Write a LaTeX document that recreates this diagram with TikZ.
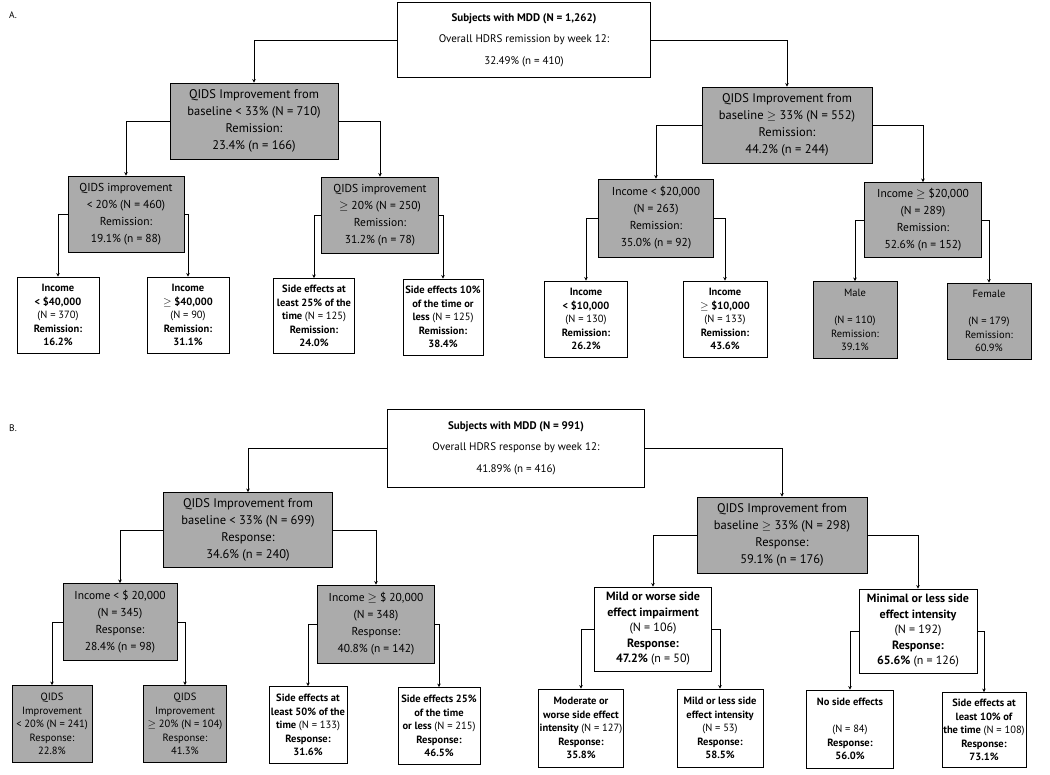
\documentclass[tikz,border=0pt]{standalone}
\usepackage{fontspec}
\setmainfont{PT Sans}
\usetikzlibrary{arrows.meta}
\newcommand{\gte}{$\geq$}

\tikzset{
  box/.style={draw=black, line width=0.9pt, inner sep=0pt, align=center},
  rootbox/.style={box, fill=white, font=\fontsize{11}{21.5}\selectfont},
  splitbox/.style={box, fill=black!33, font=\fontsize{11.5}{17}\selectfont},
  splitbig/.style={splitbox, font=\fontsize{12.5}{17}\selectfont},
  midbox/.style={box, fill=white, font=\fontsize{12}{15.5}\selectfont\bfseries},
  leafbox/.style={box, fill=white, font=\fontsize{10.5}{13.5}\selectfont\bfseries},
  leafgray/.style={box, fill=black!33, font=\fontsize{10.5}{13.5}\selectfont},
  conn/.style={line width=0.7pt, -{Stealth[length=3.5pt,width=3.5pt]}},
}

\begin{document}
\begin{tikzpicture}[x=1pt, y=-1pt]
  \useasboundingbox (0,0) rectangle (1050,775);

  % ---- panel A: remission ----
  \node[font=\fontsize{9.5}{10}\selectfont] (labA) at (13,15) {A.};
  \node[rootbox, minimum width=253pt, minimum height=75pt] (rootA) at (524,40)
    {\textbf{Subjects with MDD (N = 1,262)}\\Overall HDRS remission by week 12:\\32.49\% (n = 410)};

  \node[splitbig, minimum width=168pt, minimum height=76pt] (A1) at (254,121)
    {QIDS Improvement from\\baseline < 33\% (N = 710)\\Remission:\\23.4\% (n = 166)};
  \node[splitbig, minimum width=170pt, minimum height=76pt] (A2) at (787,125)
    {QIDS Improvement from\\baseline \gte{} 33\% (N = 552)\\Remission:\\44.2\% (n = 244)};

  \node[splitbox, minimum width=116pt, minimum height=76pt] (A11) at (126,214)
    {QIDS improvement\\< 20\% (N = 460)\\Remission:\\19.1\% (n = 88)};
  \node[splitbox, minimum width=117pt, minimum height=76pt] (A12) at (380,215)
    {QIDS improvement\\\gte{} 20\% (N = 250)\\Remission:\\31.2\% (n = 78)};
  \node[splitbox, minimum width=115pt, minimum height=78pt] (A21) at (656,218)
    {Income < \$20,000\\(N = 263)\\Remission:\\35.0\% (n = 92)};
  \node[splitbox, minimum width=117pt, minimum height=75pt] (A22) at (923,220)
    {Income \gte{} \$20,000\\(N = 289)\\Remission:\\52.6\% (n = 152)};

  \node[leafbox, minimum width=82pt, minimum height=76pt] (A111) at (58,315)
    {Income\\< \$40,000\\{\mdseries(N = 370)}\\Remission:\\16.2\%};
  \node[leafbox, minimum width=82pt, minimum height=76pt] (A112) at (188,315)
    {Income\\\gte{} \$40,000\\{\mdseries(N = 90)}\\Remission:\\31.1\%};
  \node[leafbox, minimum width=81pt, minimum height=75pt] (A121) at (314,316)
    {Side effects at\\least 25\% of the\\time {\mdseries(N = 125)}\\Remission:\\24.0\%};
  \node[leafbox, minimum width=80pt, minimum height=76pt] (A122) at (443,317)
    {Side effects 10\%\\of the time or\\less {\mdseries(N = 125)}\\Remission:\\38.4\%};
  \node[leafbox, minimum width=83pt, minimum height=76pt] (A211) at (586,319)
    {Income\\< \$10,000\\{\mdseries(N = 130)}\\Remission:\\26.2\%};
  \node[leafbox, minimum width=84pt, minimum height=76pt] (A212) at (725,319)
    {Income\\\gte{} \$10,000\\{\mdseries(N = 133)}\\Remission:\\43.6\%};
  \node[leafgray, minimum width=84pt, minimum height=77pt] (A221) at (855,320)
    {Male\\~\\(N = 110)\\Remission:\\39.1\%};
  \node[leafgray, minimum width=84pt, minimum height=76pt] (A222) at (989,321)
    {Female\\~\\(N = 179)\\Remission:\\60.9\%};

  \draw[conn] (rootA.west) -| (A1.north);
  \draw[conn] (rootA.east) -| (A2.north);
  \draw[conn] (A1.west) -| (A11.north);
  \draw[conn] (A1.east) -| (A12.north);
  \draw[conn] (A2.west) -| (A21.north);
  \draw[conn] (A2.east) -| (A22.north);
  \draw[conn] (A11.west) -| (A111.north);
  \draw[conn] (A11.east) -| (A112.north);
  \draw[conn] (A12.west) -| (A121.north);
  \draw[conn] (A12.east) -| (A122.north);
  \draw[conn] (A21.west) -| (A211.north);
  \draw[conn] (A21.east) -| (A212.north);
  \draw[conn] (A22.west) -| (A221.north);
  \draw[conn] (A22.east) -| (A222.north);

  % ---- panel B: response ----
  \node[font=\fontsize{9.5}{10}\selectfont] (labB) at (13,428) {B.};
  \node[rootbox, minimum width=257pt, minimum height=78pt] (rootB) at (516,448)
    {\textbf{Subjects with MDD (N = 991)}\\Overall HDRS response by week 12:\\41.89\% (n = 416)};

  \node[splitbig, minimum width=169pt, minimum height=75pt] (B1) at (248,530)
    {QIDS Improvement from\\baseline < 33\% (N = 699)\\Response:\\34.6\% (n = 240)};
  \node[splitbig, minimum width=170pt, minimum height=76pt] (B2) at (782,535)
    {QIDS Improvement from\\baseline \gte{} 33\% (N = 298)\\Response:\\59.1\% (n = 176)};

  \node[splitbox, minimum width=114pt, minimum height=77pt] (B11) at (120,622)
    {Income < \$ 20,000\\(N = 345)\\Response:\\28.4\% (n = 98)};
  \node[splitbox, minimum width=117pt, minimum height=78pt] (B12) at (376,624)
    {Income \gte{} \$ 20,000\\(N = 348)\\Response:\\40.8\% (n = 142)};
  \node[midbox, minimum width=117pt, minimum height=84pt] (B21) at (653,629)
    {Mild or worse side\\effect impairment\\{\mdseries(N = 106)}\\Response:\\47.2\% {\mdseries(n = 50)}};
  \node[midbox, minimum width=118pt, minimum height=84pt] (B22) at (918,631)
    {Minimal or less side\\effect intensity\\{\mdseries(N = 192)}\\Response:\\65.6\% {\mdseries(n = 126)}};

  \node[leafgray, minimum width=80pt, minimum height=77pt] (B111) at (52,724)
    {QIDS\\Improvement\\< 20\% (N = 241)\\Response:\\22.8\%};
  \node[leafgray, minimum width=83pt, minimum height=77pt] (B112) at (185,724)
    {QIDS\\Improvement\\\gte{} 20\% (N = 104)\\Response:\\41.3\%};
  \node[leafbox, minimum width=78pt, minimum height=77pt] (B121) at (308,725)
    {Side effects at\\least 50\% of the\\time {\mdseries(N = 133)}\\Response:\\31.6\%};
  \node[leafbox, minimum width=82pt, minimum height=77pt] (B122) at (439,726)
    {Side effects 25\%\\of the time\\or less {\mdseries(N = 215)}\\Response:\\46.5\%};
  \node[leafbox, minimum width=85pt, minimum height=78pt] (B211) at (581,728)
    {Moderate or\\worse side effect\\intensity {\mdseries(N = 127)}\\Response:\\35.8\%};
  \node[leafbox, minimum width=86pt, minimum height=78pt] (B212) at (720,728)
    {Mild or less side\\effect intensity\\{\mdseries(N = 53)}\\Response:\\58.5\%};
  \node[leafbox, minimum width=87pt, minimum height=78pt] (B221) at (850,729)
    {No side effects\\~\\{\mdseries(N = 84)}\\Response:\\56.0\%};
  \node[leafbox, minimum width=84pt, minimum height=75pt] (B222) at (984,730)
    {Side effects at\\least 10\% of\\the time {\mdseries(N = 108)}\\Response:\\73.1\%};

  \draw[conn] (rootB.west) -| (B1.north);
  \draw[conn] (rootB.east) -| (B2.north);
  \draw[conn] (B1.west) -| (B11.north);
  \draw[conn] (B1.east) -| (B12.north);
  \draw[conn] (B2.west) -| (B21.north);
  \draw[conn] (B2.east) -| (B22.north);
  \draw[conn] (B11.west) -| (B111.north);
  \draw[conn] (B11.east) -| (B112.north);
  \draw[conn] (B12.west) -| (B121.north);
  \draw[conn] (B12.east) -| (B122.north);
  \draw[conn] (B21.west) -| (B211.north);
  \draw[conn] (B21.east) -| (B212.north);
  \draw[conn] (B22.west) -| (B221.north);
  \draw[conn] (B22.east) -| (B222.north);
\end{tikzpicture}
\end{document}
